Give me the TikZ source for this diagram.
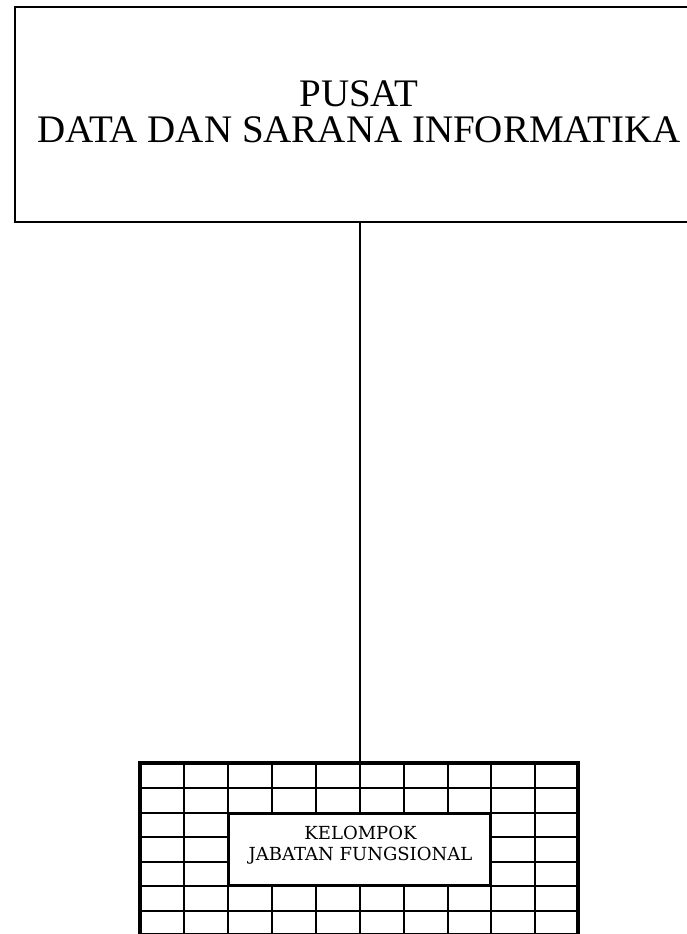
\documentclass[tikz,border=0pt]{standalone}
\usepackage{fontspec}
\setmainfont{Liberation Serif}
\newfontfamily\slabfont{DejaVu Serif}
\begin{document}
\begin{tikzpicture}[x=1pt,y=-1pt,
  topbox/.style={draw,line width=2.6pt,minimum width=690pt,minimum height=215pt,inner sep=0pt},
  gridbox/.style={draw,line width=3.6pt,minimum width=438pt,minimum height=172pt,inner sep=0pt},
  centerbox/.style={fill=white,minimum width=262pt,minimum height=72pt,inner sep=0pt},
  kjftext/.style={align=center,inner sep=0pt,font=\slabfont\fontsize{18}{20.5}\selectfont},
  gridline/.style={line width=2.6pt},
  conn/.style={line width=1.8pt}]
\useasboundingbox (0,0) rectangle (687,934);
\clip (0,0) rectangle (687,934);
\fill[white] (0,0) rectangle (687,934);
% top box
\node[topbox] (top) at (360,114.5) {};
\node[align=center,font=\fontsize{39}{36}\selectfont,inner sep=0pt] (toptext) at (359,112)
  {PUSAT\\DATA DAN SARANA INFORMATIKA};
% grid
\node[gridbox] (grid) at (359,849) {};
\foreach \x in {184,228,272,316,360,404,448,491,535}
  \draw[gridline] (\x,763) -- (\x,935);
\foreach \y in {788,813,837,862,886,911}
  \draw[gridline] (140,\y) -- (578,\y);
\node[centerbox] (kjf) at (359.5,849.5) {};
\draw[gridline] (kjf.north west) rectangle (kjf.south east);
\node[kjftext] (kjftxt) at (360.5,845) {KELOMPOK\\JABATAN FUNGSIONAL};
\node[gridbox] at (359,849) {};
% connector
\draw[conn] (top.south) -- (top.south |- grid.north);
\end{tikzpicture}
\end{document}
